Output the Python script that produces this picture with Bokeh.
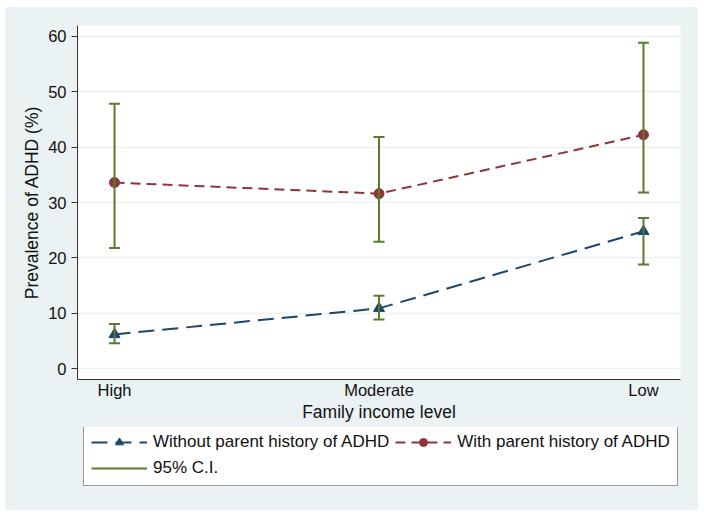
from bokeh.plotting import figure
from bokeh.models import Legend, LegendItem, FixedTicker, ColumnDataSource
from bokeh.layouts import column
from bokeh.embed import file_html
from bokeh.resources import INLINE

# ---- data ----
incomes = ["High", "Moderate", "Low"]
without_est = [6.2, 10.9, 24.8]
without_lo = [4.6, 8.9, 18.8]
without_hi = [8.1, 13.2, 27.2]
with_est = [33.6, 31.6, 42.2]
with_lo = [21.8, 22.9, 31.8]
with_hi = [47.8, 41.8, 58.8]
y_ticks = [0, 10, 20, 30, 40, 50, 60]
legend_labels = ["Without parent history of ADHD", "With parent history of ADHD", "95% C.I."]

xpos = list(range(1, len(incomes) + 1))

BG = "#eaf2f3"
NAVY = "#1a476f"
MAROON = "#90353b"
GREEN = "#5a7a32"
FONT = "Liberation Sans"
TXT = "#111111"

src = ColumnDataSource(dict(x=xpos, w_est=without_est, w_lo=without_lo, w_hi=without_hi,
                            p_est=with_est, p_lo=with_lo, p_hi=with_hi))


def draw_series(fig):
    l1 = fig.line("x", "w_est", source=src, line_color=NAVY, line_width=2, line_dash="16 8")
    m1 = fig.scatter("x", "w_est", source=src, marker="triangle", size=11,
                     fill_color=NAVY, line_color=NAVY)
    l2 = fig.line("x", "p_est", source=src, line_color=MAROON, line_width=2, line_dash="10 6")
    m2 = fig.scatter("x", "p_est", source=src, marker="circle", size=10,
                     fill_color=MAROON, line_color=MAROON)
    ci = None
    for lo, hi in (("w_lo", "w_hi"), ("p_lo", "p_hi")):
        seg = fig.segment(x0="x", y0=lo, x1="x", y1=hi, source=src, line_color=GREEN, line_width=2)
        fig.scatter("x", lo, source=src, marker="dash", size=11, line_color=GREEN, line_width=2)
        fig.scatter("x", hi, source=src, marker="dash", size=11, line_color=GREEN, line_width=2)
        if ci is None:
            ci = seg
    return l1, m1, l2, m2, ci


p = figure(width=693, height=420, x_range=(0.86, 3.14), y_range=(-1.93, 61.93),
           output_backend="svg", toolbar_location=None,
           min_border_left=72, min_border_right=18, min_border_top=18, min_border_bottom=48)
p.background_fill_color = "white"
p.border_fill_color = BG
p.outline_line_color = None

# grid
p.xgrid.grid_line_color = None
p.ygrid.grid_line_color = BG
p.ygrid.grid_line_width = 1.5
p.ygrid.ticker = FixedTicker(ticks=y_ticks)

# y axis
p.yaxis.ticker = FixedTicker(ticks=y_ticks)
p.yaxis.axis_label = "Prevalence of ADHD (%)"
p.yaxis.axis_label_text_font = FONT
p.yaxis.axis_label_text_font_size = "17.5px"
p.yaxis.axis_label_text_font_style = "normal"
p.yaxis.axis_label_text_color = TXT
p.yaxis.axis_label_standoff = 3
p.yaxis.major_label_text_font = FONT
p.yaxis.major_label_text_font_size = "16.5px"
p.yaxis.major_label_text_color = TXT
p.yaxis.major_label_standoff = 5
p.yaxis.major_tick_out = 6
p.yaxis.major_tick_in = 0
p.yaxis.minor_tick_out = 0
p.yaxis.minor_tick_in = 0
p.yaxis.axis_line_color = "#333333"
p.yaxis.major_tick_line_color = "#333333"

# x axis
p.xaxis.ticker = FixedTicker(ticks=xpos)
p.xaxis.major_label_overrides = {x: lab for x, lab in zip(xpos, incomes)}
p.xaxis.axis_label = "Family income level"
p.xaxis.axis_label_text_font = FONT
p.xaxis.axis_label_text_font_size = "17.5px"
p.xaxis.axis_label_text_font_style = "normal"
p.xaxis.axis_label_text_color = TXT
p.xaxis.axis_label_standoff = 0
p.xaxis.major_label_text_font = FONT
p.xaxis.major_label_text_font_size = "16.5px"
p.xaxis.major_label_text_color = TXT
p.xaxis.major_label_standoff = 1
p.xaxis.major_tick_out = 0
p.xaxis.major_tick_in = 0
p.xaxis.minor_tick_out = 0
p.xaxis.minor_tick_in = 0
p.xaxis.axis_line_color = "#333333"

draw_series(p)

# ---- legend strip (separate figure below the plot; its ranges keep the
# series out of view so only the legend glyphs show) ----
lg = figure(width=693, height=83, x_range=(0.86, 3.14), y_range=(-300, -200),
            output_backend="svg", toolbar_location=None,
            min_border_left=0, min_border_right=0, min_border_top=0, min_border_bottom=0)
lg.axis.visible = False
lg.grid.visible = False
lg.outline_line_color = None
lg.background_fill_color = None
lg.border_fill_color = BG

gl1, gm1, gl2, gm2, gci = draw_series(lg)

legend = Legend(items=[
    LegendItem(label=legend_labels[0], renderers=[gl1, gm1]),
    LegendItem(label=legend_labels[1], renderers=[gl2, gm2]),
    LegendItem(label=legend_labels[2], renderers=[gci]),
], orientation="horizontal", ncols=2, location=(6, 24))
legend.label_text_font = FONT
legend.label_text_font_size = "17px"
legend.label_text_color = TXT
legend.glyph_width = 56
legend.glyph_height = 20
legend.label_height = 20
legend.label_standoff = 6
legend.spacing = 6
legend.padding = 7
legend.margin = 0
legend.border_line_color = "#333333"
legend.border_line_width = 1
legend.background_fill_color = "white"
legend.background_fill_alpha = 1
lg.add_layout(legend, "center")

layout = column(p, lg, spacing=0, margin=(7, 6, 12, 5), styles={"background-color": BG})
open("out.html", "w").write(file_html(layout, INLINE))
